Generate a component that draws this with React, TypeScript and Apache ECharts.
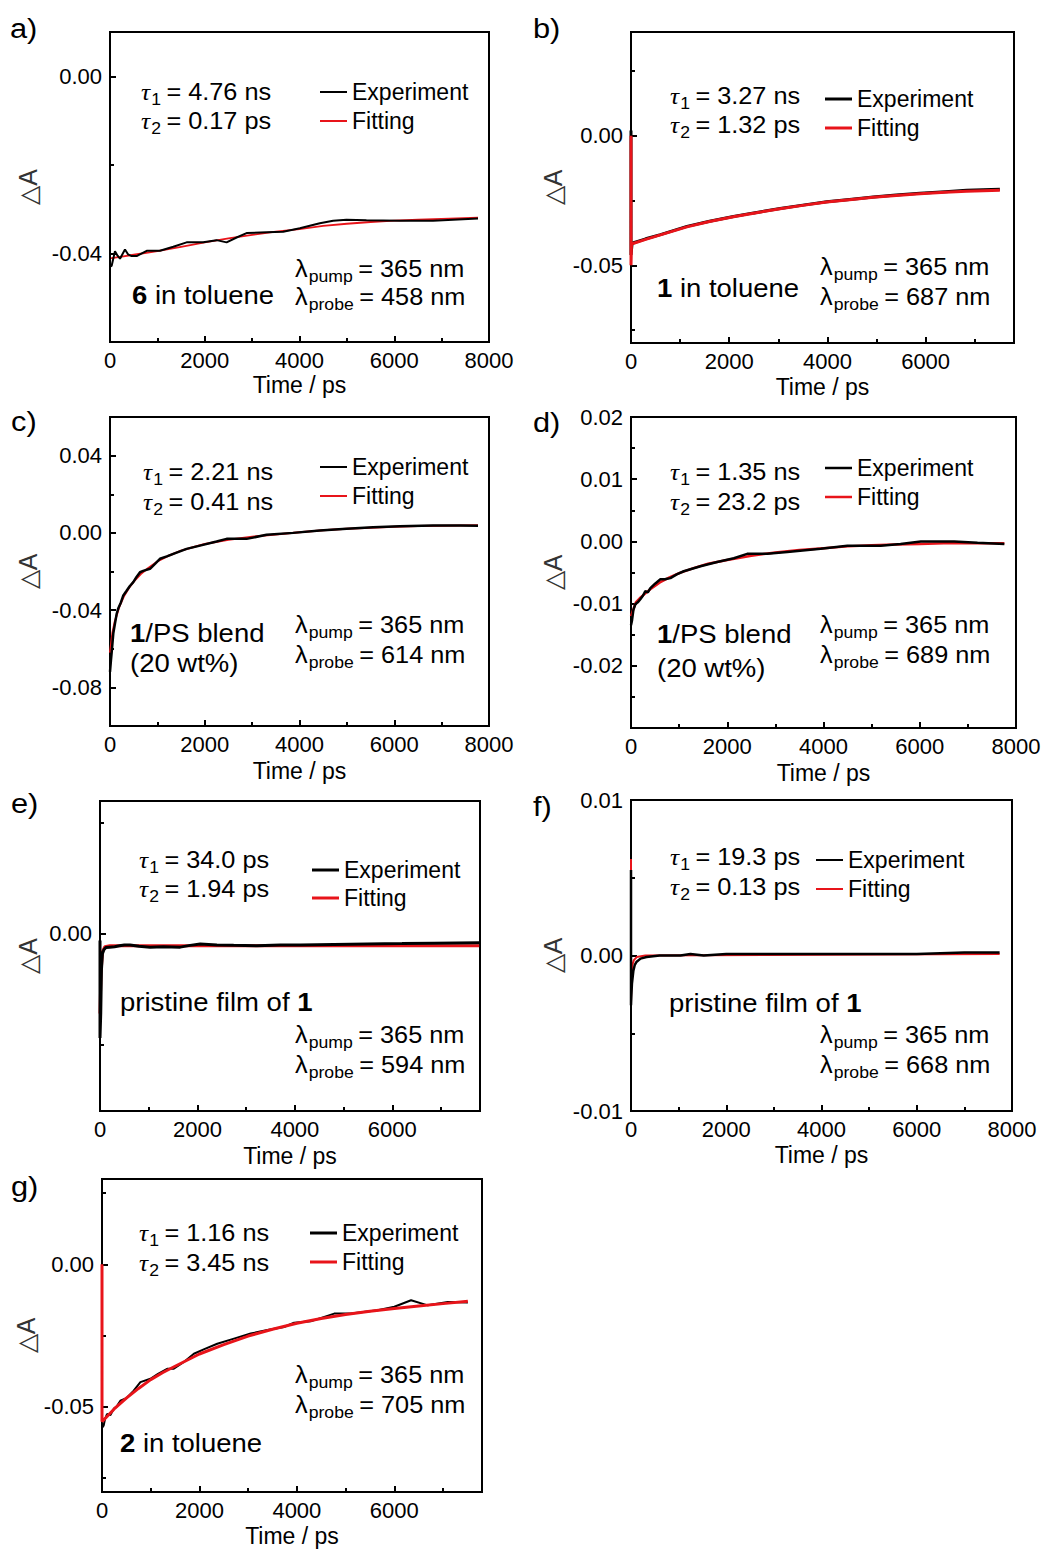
import React, { useEffect, useRef } from 'react';
import * as echarts from 'echarts';

const SANS = '"Liberation Sans", Arial, sans-serif';
const SERIF = '"Liberation Serif", "DejaVu Serif", serif';
const RED = '#e8141a';

// ---------- data (time in ps, ΔA) ----------
const expA = [[0, 0.003], [0, -0.043], [35, -0.0428], [105, -0.0395], [160, -0.0405], [211, -0.0412], [316, -0.0391], [380, -0.0402], [457, -0.0406], [562, -0.0406], [774, -0.0394], [1054, -0.0394], [1336, -0.0385], [1617, -0.0375], [1968, -0.0375], [2250, -0.037], [2461, -0.0375], [2672, -0.0364], [2883, -0.0354], [3305, -0.0352], [3656, -0.0351], [4007, -0.0343], [4429, -0.0332], [4710, -0.0326], [4992, -0.0324], [5413, -0.0325], [6116, -0.0326], [6819, -0.0326], [7768, -0.0321]];
const fitA = [[0, -0.0411], [500, -0.0403], [1000, -0.0395], [1500, -0.0385], [2000, -0.0375], [2500, -0.0366], [3000, -0.0358], [3500, -0.0351], [4000, -0.0345], [4500, -0.0338], [5000, -0.0333], [5500, -0.0329], [6000, -0.0326], [6500, -0.0324], [7000, -0.0322], [7768, -0.0319]];

const expB = [[0, 0.002], [0, -0.046], [20, -0.042], [53, -0.0413], [300, -0.0398], [600, -0.0382], [1139, -0.035], [1600, -0.033], [2087, -0.0312], [2500, -0.0298], [3037, -0.0281], [3500, -0.0268], [3987, -0.0255], [4500, -0.0245], [4935, -0.0237], [5400, -0.0229], [5884, -0.0222], [6400, -0.0216], [6834, -0.0211], [7512, -0.0207]];
const fitB = [[0, 0], [0, -0.05], [10, -0.0418], [300, -0.04], [600, -0.0383], [1139, -0.0352], [1600, -0.0331], [2087, -0.0313], [2500, -0.0299], [3037, -0.0282], [3500, -0.0269], [3987, -0.0256], [4500, -0.0246], [4935, -0.0238], [5400, -0.0231], [5884, -0.0224], [6400, -0.0218], [6834, -0.0214], [7512, -0.0211]];

const expC = [[0, -0.072], [20, -0.066], [35, -0.062], [70, -0.052], [105, -0.047], [140, -0.042], [176, -0.039], [230, -0.036], [281, -0.0324], [350, -0.03], [420, -0.0275], [492, -0.0255], [560, -0.0228], [633, -0.0204], [700, -0.0197], [844, -0.0186], [950, -0.016], [1054, -0.0134], [1200, -0.0122], [1336, -0.0109], [1617, -0.0083], [1898, -0.0066], [2250, -0.0045], [2461, -0.0031], [2883, -0.0031], [3305, -0.001], [3867, 0], [4429, 0.0012], [4992, 0.0021], [5554, 0.0029], [6116, 0.0034], [6819, 0.0038], [7400, 0.0038], [7768, 0.0037]];
const fitC = [[0, -0.062], [50, -0.052], [100, -0.046], [200, -0.038], [300, -0.0325], [400, -0.0285], [500, -0.0252], [650, -0.0213], [800, -0.0183], [1000, -0.0148], [1250, -0.0117], [1500, -0.0092], [1750, -0.0074], [2000, -0.0058], [2500, -0.0036], [3000, -0.002], [3500, -0.0008], [4000, 0.0003], [4500, 0.0013], [5000, 0.0021], [5500, 0.0027], [6000, 0.0032], [6500, 0.0035], [7000, 0.0037], [7768, 0.0039]];

const expD = [[0, -0.0135], [21, -0.0127], [50, -0.011], [90, -0.0101], [140, -0.0098], [194, -0.0093], [250, -0.0087], [298, -0.008], [350, -0.0082], [403, -0.0075], [500, -0.0068], [611, -0.0061], [700, -0.0061], [819, -0.0059], [950, -0.0053], [1096, -0.0048], [1443, -0.004], [1790, -0.0033], [2137, -0.0027], [2414, -0.002], [2831, -0.002], [3247, -0.0017], [3941, -0.0012], [4496, -0.0007], [5190, -0.0007], [5600, -0.0004], [6023, 0], [6717, 0], [7200, -0.0002], [7758, -0.0004]];
const fitD = [[0, -0.012], [100, -0.0098], [200, -0.009], [400, -0.0077], [600, -0.0066], [800, -0.0058], [1000, -0.0051], [1300, -0.0043], [1600, -0.0036], [2000, -0.003], [2500, -0.0023], [3000, -0.0018], [3500, -0.0014], [4000, -0.0011], [4500, -0.0008], [5000, -0.0006], [5500, -0.0005], [6000, -0.0004], [6500, -0.0003], [7000, -0.0003], [7758, -0.0003]];

const expE = [[0, -0.0015], [0, -0.0235], [15, -0.018], [30, -0.008], [50, -0.0045], [80, -0.0036], [120, -0.0031], [200, -0.003], [300, -0.0029], [400, -0.0027], [500, -0.0025], [617, -0.0025], [800, -0.0028], [1029, -0.003], [1300, -0.0029], [1646, -0.003], [1850, -0.0026], [2057, -0.0023], [2400, -0.0025], [2743, -0.0026], [3223, -0.0027], [3700, -0.0025], [4114, -0.0025], [4800, -0.0024], [5486, -0.0023], [6200, -0.0022], [6857, -0.0021], [7783, -0.002]];
const fitE = [[0, -0.018], [20, -0.009], [50, -0.004], [100, -0.0029], [200, -0.0027], [1000, -0.0027], [3000, -0.0027], [5000, -0.0027], [7783, -0.0027]];

const expF = [[0, 0.0055], [0, -0.0032], [6, -0.0027], [20, -0.0018], [49, -0.001], [80, -0.0006], [119, -0.0004], [200, -0.0002], [328, -0.0001], [600, 0], [850, 0], [1039, 0], [1248, 0.0001], [1527, 0], [2000, 0.0001], [3000, 0.0001], [4000, 0.0001], [5000, 0.0001], [6000, 0.0001], [7000, 0.0002], [7740, 0.0002]];
const fitF = [[0, 0.0062], [0, -0.003], [10, -0.0015], [30, -0.0006], [60, -0.0003], [120, -0.0001], [300, 0], [7740, 0.0001]];

const expG = [[0, -0.001], [0, -0.0575], [33, -0.0567], [60, -0.0545], [103, -0.0526], [170, -0.053], [240, -0.0508], [300, -0.05], [377, -0.0479], [500, -0.047], [651, -0.0444], [788, -0.0414], [994, -0.0402], [1150, -0.0385], [1337, -0.0367], [1474, -0.0367], [1680, -0.0343], [1886, -0.0314], [2100, -0.0298], [2366, -0.0279], [2709, -0.0261], [3052, -0.0243], [3395, -0.0231], [3738, -0.022], [3943, -0.0205], [4286, -0.02], [4500, -0.0188], [4766, -0.0173], [5109, -0.0173], [5658, -0.0161], [6001, -0.0149], [6344, -0.0126], [6687, -0.0144], [7098, -0.0132], [7510, -0.0134]];
const fitG = [[0, 0], [0, -0.0552], [30, -0.0548], [250, -0.0508], [500, -0.047], [750, -0.0436], [1000, -0.0405], [1250, -0.038], [1500, -0.0358], [2000, -0.0315], [2500, -0.0282], [3000, -0.0252], [3500, -0.0228], [4000, -0.0207], [4500, -0.019], [5000, -0.0176], [5500, -0.0165], [6000, -0.0155], [6500, -0.0146], [7000, -0.0138], [7510, -0.013]];

// ---------- axis ranges and tick values ----------
const xMaxes = [8000, 7800, 8000, 8000, 7800, 8000, 7800];
const yRanges = [[-0.06, 0.01], [-0.08, 0.04], [-0.1, 0.06], [-0.03, 0.02], [-0.04, 0.03], [-0.01, 0.01], [-0.08, 0.03]];
const yMajorTicks = [[-0.04, 0], [-0.05, 0], [-0.08, -0.04, 0, 0.04], [-0.02, -0.01, 0, 0.01, 0.02], [0], [-0.01, 0, 0.01], [-0.05, 0]];
const yMinorTicks = [[-0.02], [-0.075, -0.025, 0.025], [-0.06, -0.02, 0.02], [-0.025, -0.015, -0.005, 0.005, 0.015], [-0.025, 0.025], [-0.005, 0.005], [-0.075, -0.025, 0.025]];
const xMajorTicks = [0, 2000, 4000, 6000, 8000];
const xMinorTicks = [1000, 3000, 5000, 7000];

// ---------- annotation texts ----------
const letters = ['a)', 'b)', 'c)', 'd)', 'e)', 'f)', 'g)'];
const tau1 = ['4.76 ns', '3.27 ns', '2.21 ns', '1.35 ns', '34.0 ps', '19.3 ps', '1.16 ns'];
const tau2 = ['0.17 ps', '1.32 ps', '0.41 ns', '23.2 ps', '1.94 ps', '0.13 ps', '3.45 ns'];
const probes = ['458 nm', '687 nm', '614 nm', '689 nm', '594 nm', '668 nm', '705 nm'];
const pump = '365 nm';
const sampleBold = ['6', '1', '1', '1', '', '', '2'];
const sampleRest = [' in toluene', ' in toluene', '/PS blend', '/PS blend', 'pristine film of ', 'pristine film of ', ' in toluene'];
const sampleTrailBold = ['', '', '', '', '1', '1', ''];
const sampleLine2 = ['', '', '(20 wt%)', '(20 wt%)', '', '', ''];

const expData = [expA, expB, expC, expD, expE, expF, expG];
const fitData = [fitA, fitB, fitC, fitD, fitE, fitF, fitG];

// ---------- layout (pixels) ----------
const grids = [
  [110, 32, 379, 310], [631, 32, 383, 311],
  [110, 417, 379, 309], [631, 417, 385, 311],
  [100, 801, 380, 310], [631, 800, 381, 311],
  [102, 1179, 380, 313],
];
const yNameGaps = [70, 66, 70, 66, 60, 66, 64];
const xNameGaps = [31, 32, 33, 33, 33, 32, 32];
const letterPos = [[10, 28], [533, 28], [11, 421], [533, 422], [11, 803], [533, 806], [11, 1186]];
const tauPos = [[141, 92, 121], [670, 96, 125], [143, 472, 502], [670, 472, 502], [139, 860, 889], [670, 857, 887], [139, 1233, 1263]];
const legendPos = [[320, 92, 121], [825, 99, 128], [320, 467, 496], [825, 468, 497], [312, 870, 898], [816, 860, 889], [310, 1233, 1262]];
const lambdaPos = [[295, 269, 297], [820, 267, 297], [295, 625, 655], [820, 625, 655], [295, 1035, 1065], [820, 1035, 1065], [295, 1375, 1405]];
const samplePos = [[132, 295, 0], [657, 288, 0], [130, 633, 663], [657, 634, 668], [120, 1002, 0], [669, 1003, 0], [120, 1443, 0]];
const expWidth = [2, 3, 2.5, 2.5, 3, 2.5, 2];
const fitWidth = [1.8, 3, 2, 2.5, 3, 2, 3];
const legendThick = [2, 3, 2, 2.5, 3, 2, 3];
const fitOnTop = [false, true, false, false, false, false, true];

const fmtY = (v: number) => (Math.abs(v) < 1e-9 ? '0.00' : v.toFixed(2));

function subText(x: number, cy: number, head: string, headFamily: string, italic: boolean, sub: string, rest: string) {
  return {
    type: 'text', x, y: cy - 11.5, scaleX: 1.1, silent: true,
    style: {
      text: `{h|${head}}{s|${sub}}{r|= ${rest}}`,
      align: 'left', verticalAlign: 'top', fill: '#000',
      rich: {
        h: { fontFamily: headFamily, fontStyle: italic ? 'italic' : 'normal', fontSize: 23, lineHeight: 23, verticalAlign: 'top', fill: '#000' },
        s: { fontFamily: SANS, fontSize: 16, padding: [11, 1, 0, 1], verticalAlign: 'top', fill: '#000' },
        r: { fontFamily: SANS, fontSize: 23, lineHeight: 23, verticalAlign: 'top', padding: [0, 0, 0, 4], fill: '#000' },
      },
    },
  };
}

function buildOption() {
  const grid: any[] = [];
  const xAxis: any[] = [];
  const yAxis: any[] = [];
  const series: any[] = [];
  const legend: any[] = [];
  const elements: any[] = [];
  const tickLine = { color: '#000', width: 2 };

  for (let i = 0; i < 7; i++) {
    const [l, t, w, h] = grids[i];
    grid.push({ left: l, top: t, width: w, height: h, show: true, borderColor: '#000', borderWidth: 2, backgroundColor: 'transparent' });
    const xMax = xMaxes[i];
    const xLabels = xMajorTicks.filter((v) => v <= xMax);
    xAxis.push({
      type: 'value', gridIndex: i, position: 'bottom', min: 0, max: xMax,
      axisLine: { show: true, onZero: false, lineStyle: { color: '#000', width: 2 } },
      axisTick: { show: true, inside: true, length: 6, lineStyle: tickLine, customValues: xLabels },
      axisLabel: { customValues: xLabels, fontSize: 22, fontFamily: SANS, color: '#000', margin: 7, formatter: (v: number) => String(v) },
      splitLine: { show: false },
      name: 'Time / ps', nameLocation: 'middle', nameGap: xNameGaps[i],
      nameTextStyle: { fontSize: 23, fontFamily: SANS, color: '#000' },
    });
    xAxis.push({
      type: 'value', gridIndex: i, position: 'bottom', min: 0, max: xMax,
      axisLine: { show: false, onZero: false },
      axisTick: { show: true, inside: true, length: 4, lineStyle: tickLine, customValues: xMinorTicks.filter((v) => v < xMax) },
      axisLabel: { show: false }, splitLine: { show: false },
    });
    const [yMin, yMax] = yRanges[i];
    yAxis.push({
      type: 'value', gridIndex: i, position: 'left', min: yMin, max: yMax,
      axisLine: { show: true, onZero: false, lineStyle: { color: '#000', width: 2 } },
      axisTick: { show: true, inside: true, length: 6, lineStyle: tickLine, customValues: yMajorTicks[i] },
      axisLabel: { customValues: yMajorTicks[i], fontSize: 22, fontFamily: SANS, color: '#000', margin: 8, formatter: fmtY },
      splitLine: { show: false },
      name: '\u25B3A', nameLocation: 'middle', nameGap: yNameGaps[i],
      nameTextStyle: { fontSize: 25, fontFamily: SANS, color: '#333' },
    });
    yAxis.push({
      type: 'value', gridIndex: i, position: 'left', min: yMin, max: yMax,
      axisLine: { show: false, onZero: false },
      axisTick: { show: true, inside: true, length: 4, lineStyle: tickLine, customValues: yMinorTicks[i] },
      axisLabel: { show: false }, splitLine: { show: false },
    });

    series.push({
      type: 'line', name: 'Experiment', xAxisIndex: 2 * i, yAxisIndex: 2 * i,
      data: expData[i], showSymbol: false, symbol: 'none', color: '#000',
      lineStyle: { color: '#000', width: expWidth[i] }, z: fitOnTop[i] ? 2 : 4, silent: true,
    });
    series.push({
      type: 'line', name: 'Fitting', xAxisIndex: 2 * i, yAxisIndex: 2 * i,
      data: fitData[i], showSymbol: false, symbol: 'none', color: RED,
      lineStyle: { color: RED, width: fitWidth[i] }, z: 3, silent: true,
    });

    const [lx, ly1, ly2] = legendPos[i];
    legend.push({
      data: ['Experiment', 'Fitting'], orient: 'vertical', left: lx, top: ly1 - 11.5,
      itemWidth: 27, itemHeight: legendThick[i], icon: 'rect', itemGap: ly2 - ly1 - 23,
      padding: 0, selectedMode: false,
      textStyle: { fontSize: 23, fontFamily: SANS, color: '#000' },
    });

    const [pxl, pyl] = letterPos[i];
    elements.push({ type: 'text', x: pxl, y: pyl, scaleX: 1.1, silent: true, style: { text: letters[i], fontSize: 28, fontFamily: SANS, fill: '#000', verticalAlign: 'middle', align: 'left' } });

    const [tx, ty1, ty2] = tauPos[i];
    elements.push(subText(tx, ty1, '\u03C4', SERIF, true, '1', tau1[i]));
    elements.push(subText(tx, ty2, '\u03C4', SERIF, true, '2', tau2[i]));

    const [lmx, lmy1, lmy2] = lambdaPos[i];
    elements.push(subText(lmx, lmy1, '\u03BB', SANS, false, 'pump', pump));
    elements.push(subText(lmx, lmy2, '\u03BB', SANS, false, 'probe', probes[i]));

    const [sx, sy1, sy2] = samplePos[i];
    let txt = '';
    if (sampleBold[i]) txt += `{b|${sampleBold[i]}}`;
    txt += `{n|${sampleRest[i]}}`;
    if (sampleTrailBold[i]) txt += `{b|${sampleTrailBold[i]}}`;
    elements.push({
      type: 'text', x: sx, y: sy1, scaleX: 1.1, silent: true,
      style: {
        text: txt, verticalAlign: 'middle', align: 'left', fill: '#000',
        rich: {
          b: { fontFamily: SANS, fontSize: 25, fontWeight: 'bold', fill: '#000' },
          n: { fontFamily: SANS, fontSize: 25, fill: '#000' },
        },
      },
    });
    if (sampleLine2[i]) {
      elements.push({ type: 'text', x: sx, y: sy2, scaleX: 1.1, silent: true, style: { text: sampleLine2[i], fontSize: 25, fontFamily: SANS, fill: '#000', verticalAlign: 'middle', align: 'left' } });
    }
  }

  return {
    animation: false,
    backgroundColor: '#fff',
    grid, xAxis, yAxis, series, legend,
    graphic: { elements },
  };
}

export default function App() {
  const ref = useRef<HTMLDivElement>(null);
  useEffect(() => {
    if (!ref.current) return;
    const chart = echarts.init(ref.current, null, { renderer: 'svg' });
    chart.setOption(buildOption() as any);
    return () => chart.dispose();
  }, []);
  return <div ref={ref} style={{ position: 'absolute', left: 0, top: 0, width: 1046, height: 1549, background: '#fff' }} />;
}
